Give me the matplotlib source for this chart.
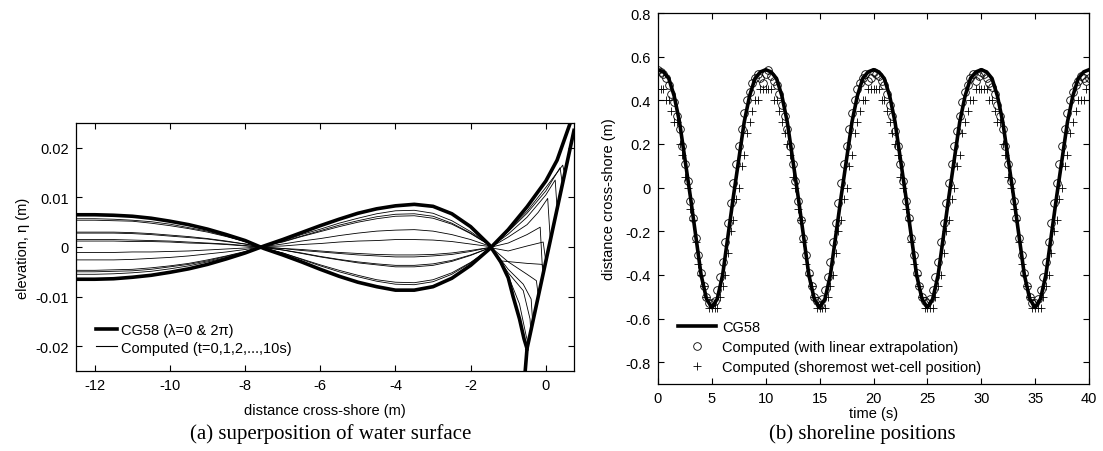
import numpy as np
import matplotlib
matplotlib.use('Agg')
import matplotlib.pyplot as plt
from matplotlib.ticker import FuncFormatter

plt.rcParams['font.family'] = ['Liberation Sans', 'DejaVu Sans']
plt.rcParams['axes.unicode_minus'] = False

# ---- (a) water surface ----
# CG58 analytic surfaces
cg_a_x = [-12.5, -12, -11.5, -11, -10.5, -10, -9.5, -9, -8.5, -8, -7.5, -7, -6.5, -6, -5.5,
          -5, -4.5, -4, -3.5, -3, -2.5, -2, -1.5, -1, -0.5, 0, 0.3, 0.65, 0.75]
cg_a_y = [0.0065, 0.0065, 0.0064, 0.0062, 0.0058, 0.0052, 0.0045, 0.0036, 0.0025, 0.0013,
          -0.0003, -0.0016, -0.0030, -0.0045, -0.0059, -0.0071, -0.0080, -0.0087, -0.0087,
          -0.0080, -0.0063, -0.0037, -0.0004, 0.0035, 0.0081, 0.0133, 0.0175, 0.025, 0.0268]
cg_b_x = [-12.5, -12, -11.5, -11, -10.5, -10, -9.5, -9, -8.5, -8, -7.5, -7, -6.5, -6, -5.5,
          -5, -4.5, -4, -3.5, -3, -2.5, -2, -1.5, -1.2, -1.0, -0.87, -0.7, -0.58, -0.5, -0.57]
cg_b_y = [-0.0065, -0.0065, -0.0064, -0.0061, -0.0057, -0.0051, -0.0044, -0.0035, -0.0024,
          -0.0012, 0.0002, 0.0015, 0.0029, 0.0043, 0.0056, 0.0068, 0.0077, 0.0083, 0.0086,
          0.0082, 0.0067, 0.0041, 0.0004, -0.003, -0.0062, -0.010, -0.0145, -0.0185, -0.0205,
          -0.027]
beach_x = [-0.5, 0.75]
beach_y = [-0.0205, 0.0235]

# computed surfaces, offshore part (x every 0.5 m), values in 1e-4 m
x_far = [-12.5, -12, -11.5, -11, -10.5, -10, -9.5, -9, -8.5, -8, -7.5, -7, -6.5, -6, -5.5,
         -5, -4.5, -4, -3.5, -3, -2.5, -2, -1.5]
t0_far = [57, 57, 56, 54, 51, 46, 39, 32, 22, 11, -3, -12, -25, -38, -50, -60, -69, -75, -76, -70, -55, -32, -4]
t1_far = [28, 28, 28, 27, 25, 22, 19, 16, 11, 6, -1, -6, -12, -19, -25, -30, -34, -37, -37, -34, -27, -16, -2]
t2_far = [15, 15, 15, 14, 13, 12, 10, 8, 6, 3, -1, -3, -7, -10, -13, -16, -18, -20, -20, -18, -15, -9, -1]
t3_far = [-11, -11, -11, -10, -10, -9, -8, -6, -4, -2, 1, 2, 5, 7, 10, 12, 13, 15, 15, 14, 11, 6, 1]
t4_far = [-50, -50, -49, -48, -45, -40, -35, -28, -19, -10, 2, 11, 22, 33, 44, 53, 61, 66, 67, 62, 48, 28, 4]
t5_far = [-55, -55, -54, -52, -49, -44, -38, -30, -21, -11, 3, 12, 25, 36, 48, 58, 67, 73, 74, 68, 53, 31, 4]
t6_far = [-47, -47, -46, -45, -42, -38, -33, -26, -18, -9, 2, 10, 21, 31, 41, 50, 57, 62, 63, 58, 46, 27, 4]
t7_far = [-26, -26, -26, -25, -23, -21, -18, -14, -10, -5, 1, 6, 12, 17, 23, 28, 32, 34, 35, 32, 25, 15, 2]
t8_far = [12, 12, 12, 11, 11, 10, 8, 7, 5, 2, 0, -3, -5, -8, -11, -13, -15, -16, -16, -15, -12, -7, -1]
t9_far = [30, 30, 30, 29, 27, 24, 21, 17, 12, 6, -1, -6, -13, -20, -26, -32, -36, -40, -40, -37, -29, -17, -2]
t10_far = [54, 54, 53, 52, 48, 43, 37, 30, 21, 11, -2, -12, -24, -36, -47, -57, -66, -71, -72, -66, -52, -31, -4]

# computed surfaces, swash zone (x in m, eta in m)
t0_near_x = [-1, -0.5, 0, 0.45, 0.5, 0.75]
t0_near_y = [0.0033, 0.0072, 0.012, 0.0165, 0.0148, 0.0236]
t1_near_x = [-1, -0.5, -0.2, 0.05, 0.12, 0.75]
t1_near_y = [0.002, 0.0045, 0.007, 0.0098, 0.0013, 0.0236]
t2_near_x = [-1, -0.5, -0.07, 0.0, 0.75]
t2_near_y = [-0.0008, 0.0002, 0.001, -0.0029, 0.0235]
t3_near_x = [-1.2, -0.5, -0.1, -0.05, 0.75]
t3_near_y = [-0.0028, -0.0033, -0.0035, -0.0047, 0.0235]
t4_near_x = [-1, -0.6, -0.39, -0.35, 0.75]
t4_near_y = [-0.0045, -0.0075, -0.0105, -0.0152, 0.0235]
t5_near_x = [-1, -0.7, -0.52, -0.47, 0.75]
t5_near_y = [-0.0058, -0.0115, -0.018, -0.0194, 0.0235]
t6_near_x = [-1, -0.6, -0.42, -0.4, 0.75]
t6_near_y = [-0.0052, -0.0088, -0.0145, -0.017, 0.0235]
t7_near_x = [-1, -0.5, -0.25, -0.2, 0.75]
t7_near_y = [-0.003, -0.0055, -0.0068, -0.0099, 0.0235]
t8_near_x = [-1, -0.5, -0.15, -0.08, 0.75]
t8_near_y = [0.0008, 0.0025, 0.004, -0.0057, 0.0235]
t9_near_x = [-1, -0.5, 0, 0.25, 0.3, 0.75]
t9_near_y = [0.0026, 0.006, 0.0105, 0.0135, 0.0077, 0.0236]
t10_near_x = [-1, -0.5, 0, 0.38, 0.44, 0.75]
t10_near_y = [0.0031, 0.0068, 0.0113, 0.016, 0.0127, 0.0236]

computed = [(t0_far, t0_near_x, t0_near_y), (t1_far, t1_near_x, t1_near_y),
            (t2_far, t2_near_x, t2_near_y), (t3_far, t3_near_x, t3_near_y),
            (t4_far, t4_near_x, t4_near_y), (t5_far, t5_near_x, t5_near_y),
            (t6_far, t6_near_x, t6_near_y), (t7_far, t7_near_x, t7_near_y),
            (t8_far, t8_near_x, t8_near_y), (t9_far, t9_near_x, t9_near_y),
            (t10_far, t10_near_x, t10_near_y)]

# ---- (b) shoreline positions ----
t_cg = np.arange(0, 40.01, 0.5)
cg58_shore = [0.54, 0.53, 0.50, 0.42, 0.30, 0.13, -0.04, -0.22, -0.40, -0.51,
              -0.55, -0.51, -0.40, -0.22, -0.04, 0.13, 0.30, 0.42, 0.50, 0.53,
              0.54, 0.53, 0.50, 0.42, 0.30, 0.13, -0.04, -0.22, -0.40, -0.51,
              -0.55, -0.51, -0.40, -0.22, -0.04, 0.13, 0.30, 0.42, 0.50, 0.53,
              0.54, 0.53, 0.50, 0.42, 0.30, 0.13, -0.04, -0.22, -0.40, -0.51,
              -0.55, -0.51, -0.40, -0.22, -0.04, 0.13, 0.30, 0.42, 0.50, 0.53,
              0.54, 0.53, 0.50, 0.42, 0.30, 0.13, -0.04, -0.22, -0.40, -0.51,
              -0.55, -0.51, -0.40, -0.22, -0.04, 0.13, 0.30, 0.42, 0.50, 0.53,
              0.54]

t_comp = np.arange(0, 40.01, 0.25)
shore_extrap = [0.54, 0.53, 0.52, 0.50, 0.47, 0.43, 0.39, 0.33, 0.27, 0.19,
                0.11, 0.03, -0.06, -0.14, -0.23, -0.31, -0.39, -0.45, -0.50, -0.53,
                -0.53, -0.52, -0.47, -0.41, -0.34, -0.25, -0.16, -0.07, 0.02, 0.11,
                0.19, 0.27, 0.34, 0.40, 0.44, 0.48, 0.50, 0.52, 0.50, 0.48,
                0.52, 0.54, 0.51, 0.49, 0.47, 0.43, 0.38, 0.33, 0.27, 0.19,
                0.11, 0.03, -0.06, -0.15, -0.23, -0.31, -0.39, -0.45, -0.50, -0.52,
                -0.54, -0.51, -0.47, -0.41, -0.34, -0.25, -0.16, -0.07, 0.02, 0.11,
                0.19, 0.27, 0.34, 0.40, 0.45, 0.48, 0.50, 0.52, 0.49, 0.50,
                0.53, 0.52, 0.51, 0.49, 0.47, 0.43, 0.38, 0.33, 0.26, 0.19,
                0.11, 0.03, -0.06, -0.14, -0.23, -0.31, -0.39, -0.45, -0.50, -0.52,
                -0.53, -0.51, -0.47, -0.41, -0.34, -0.25, -0.16, -0.07, 0.02, 0.11,
                0.19, 0.26, 0.33, 0.39, 0.44, 0.47, 0.50, 0.52, 0.49, 0.51,
                0.53, 0.52, 0.50, 0.48, 0.46, 0.43, 0.38, 0.33, 0.27, 0.19,
                0.11, 0.03, -0.06, -0.14, -0.23, -0.31, -0.39, -0.45, -0.50, -0.53,
                -0.53, -0.51, -0.47, -0.41, -0.34, -0.25, -0.16, -0.07, 0.02, 0.11,
                0.19, 0.27, 0.34, 0.40, 0.44, 0.47, 0.49, 0.51, 0.50, 0.49,
                0.50]
shore_wetcell = [0.45, 0.45, 0.45, 0.40, 0.40, 0.35, 0.30, 0.30, 0.20, 0.15,
                 0.05, 0.00, -0.10, -0.15, -0.25, -0.35, -0.40, -0.45, -0.50, -0.55,
                 -0.55, -0.55, -0.55, -0.50, -0.45, -0.40, -0.30, -0.20, -0.15, -0.05,
                 0.00, 0.10, 0.15, 0.25, 0.30, 0.35, 0.40, 0.40, 0.45, 0.45,
                 0.45, 0.45, 0.45, 0.40, 0.40, 0.35, 0.30, 0.25, 0.20, 0.15,
                 0.05, 0.00, -0.10, -0.15, -0.25, -0.35, -0.40, -0.45, -0.50, -0.55,
                 -0.55, -0.55, -0.55, -0.50, -0.45, -0.40, -0.30, -0.20, -0.15, -0.05,
                 0.00, 0.10, 0.15, 0.25, 0.30, 0.35, 0.40, 0.40, 0.45, 0.45,
                 0.45, 0.45, 0.45, 0.40, 0.40, 0.35, 0.30, 0.25, 0.20, 0.15,
                 0.05, 0.00, -0.10, -0.15, -0.25, -0.35, -0.40, -0.45, -0.50, -0.55,
                 -0.55, -0.55, -0.55, -0.50, -0.45, -0.40, -0.30, -0.20, -0.15, -0.05,
                 0.00, 0.10, 0.15, 0.25, 0.30, 0.35, 0.40, 0.40, 0.45, 0.45,
                 0.45, 0.45, 0.45, 0.40, 0.40, 0.35, 0.30, 0.30, 0.20, 0.15,
                 0.05, 0.00, -0.10, -0.15, -0.25, -0.35, -0.40, -0.45, -0.50, -0.55,
                 -0.55, -0.55, -0.55, -0.50, -0.45, -0.40, -0.30, -0.20, -0.15, -0.05,
                 0.00, 0.10, 0.15, 0.25, 0.30, 0.35, 0.40, 0.40, 0.40, 0.45,
                 0.45]

ax1_xticks = [-12, -10, -8, -6, -4, -2, 0]
ax1_yticks = [-0.02, -0.01, 0, 0.01, 0.02]
ax2_xticks = [0, 5, 10, 15, 20, 25, 30, 35, 40]
ax2_yticks = [-0.8, -0.6, -0.4, -0.2, 0, 0.2, 0.4, 0.6, 0.8]

fig = plt.figure(figsize=(11.03, 4.52), dpi=100)
ax1 = fig.add_axes([76/1103, 1-372/452, 498/1103, 248/452])
ax2 = fig.add_axes([658/1103, 1-385/452, 431/1103, 371/452])

fmt = FuncFormatter(lambda v, p: '0' if abs(v) < 1e-9 else '%g' % v)

# 左图
for far_y, nx, ny in computed:
    ax1.plot(x_far + nx, [v * 1e-4 for v in far_y] + ny, color='black', lw=0.6)
ax1.plot([], [], color='black', lw=2.6, label='CG58 (λ=0 & 2π)')
ax1.plot(cg_a_x, cg_a_y, color='black', lw=2.6)
ax1.plot(cg_b_x, cg_b_y, color='black', lw=2.6)
ax1.plot(beach_x, beach_y, color='black', lw=2.6)
ax1.plot([], [], color='black', lw=0.8, label='Computed (t=0,1,2,...,10s)')
ax1.set_xlim(-12.5, 0.75)
ax1.set_ylim(-0.025, 0.025)
ax1.set_xticks(ax1_xticks)
ax1.set_yticks(ax1_yticks)
ax1.yaxis.set_major_formatter(fmt)
ax1.set_xlabel('distance cross-shore (m)', fontsize=10.5, labelpad=8)
ax1.set_ylabel('elevation, η (m)', fontsize=10.5, labelpad=4)
ax1.legend(loc='lower left', bbox_to_anchor=(0.02, 0.025), frameon=False, fontsize=10.5,
           handlelength=1.4, handletextpad=0.3, labelspacing=0.25, borderpad=0.2)

# 右图
ax2.plot(t_cg, cg58_shore, color='black', lw=2.6, label='CG58')
ax2.plot(t_comp, shore_extrap, 'o', mfc='none', mec='black', mew=0.6, ms=5.5,
         label='Computed (with linear extrapolation)')
ax2.plot(t_comp, shore_wetcell, '+', color='black', mew=0.6, ms=6,
         label='Computed (shoremost wet-cell position)')
ax2.set_xlim(0, 40)
ax2.set_ylim(-0.9, 0.8)
ax2.set_xticks(ax2_xticks)
ax2.set_yticks(ax2_yticks)
ax2.yaxis.set_major_formatter(fmt)
ax2.set_xlabel('time (s)', fontsize=10.5, labelpad=1)
ax2.set_ylabel('distance cross-shore (m)', fontsize=10.5, labelpad=7)
ax2.legend(loc='lower left', bbox_to_anchor=(0.02, -0.005), frameon=False, fontsize=10.5,
           handlelength=2.6, handletextpad=0.4, labelspacing=0.42, borderpad=0.3)

for ax in (ax1, ax2):
    ax.tick_params(direction='in', top=True, right=True, length=4, width=0.8,
                   labelsize=10.5, pad=5)
    for s in ax.spines.values():
        s.set_linewidth(0.9)

fig.text(331/1103, 1-434/452, '(a) superposition of water surface', ha='center', va='center',
         family=['Liberation Serif', 'DejaVu Serif'], fontsize=15)
fig.text(862/1103, 1-434/452, '(b) shoreline positions', ha='center', va='center',
         family=['Liberation Serif', 'DejaVu Serif'], fontsize=15)

fig.savefig('out.png', dpi=100)
